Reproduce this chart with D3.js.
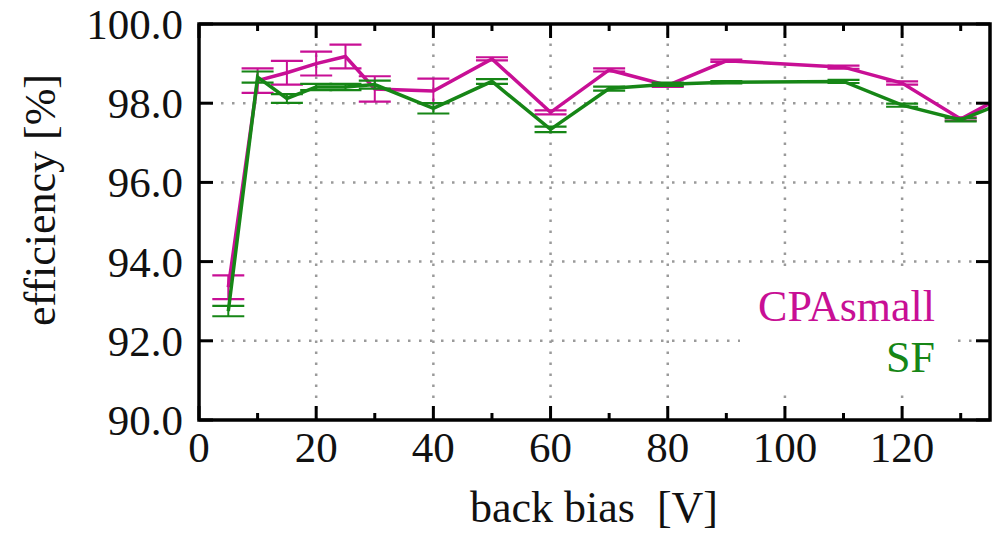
<!DOCTYPE html>
<html><head><meta charset="utf-8">
<script src="https://cdn.jsdelivr.net/npm/d3@7"></script>
<style>html,body{margin:0;padding:0;background:#fff;}svg{display:block;}</style>
</head><body>
<svg id="chart" width="992" height="533"></svg>
<script>
// ---- data ----
const biasV = [5, 10, 15, 20, 25, 30, 40, 50, 60, 70, 80, 90, 110, 120, 130, 140];
const cpaSmall = [93.35, 98.57, 98.77, 99.0, 99.18, 98.36, 98.31, 99.12, 97.77, 98.84, 98.45, 99.07, 98.91, 98.51, 97.6, 98.4];
const cpaSmallErr = [0.3, 0.31, 0.3, 0.3, 0.3, 0.32, 0.31, 0.04, 0.05, 0.04, 0.04, 0.03, 0.04, 0.04, 0.04, 0.04];
const sf = [92.75, 98.66, 98.12, 98.41, 98.41, 98.47, 97.87, 98.55, 97.34, 98.37, 98.48, 98.53, 98.55, 97.95, 97.58, 98.17];
const sfErr = [0.13, 0.14, 0.11, 0.08, 0.08, 0.1, 0.13, 0.06, 0.07, 0.05, 0.04, 0.03, 0.04, 0.04, 0.04, 0.04];
const xTicks = [0, 20, 40, 60, 80, 100, 120];
const xMinorTicks = [10, 30, 50, 70, 90, 110, 130];
const yTicks = [90, 92, 94, 96, 98, 100];
const seriesNames = ["CPAsmall", "SF"];
const seriesColors = ["#c80f95", "#168616"];

const svg = d3.select("#chart");
const L = 199, R = 990, T = 24, B = 420;
const x = d3.scaleLinear().domain([0, 135]).range([L, R]);
const y = d3.scaleLinear().domain([90, 100]).range([B, T]);
const font = "'Liberation Serif', 'Times New Roman', serif";

svg.append("defs").append("clipPath").attr("id", "clip")
  .append("rect").attr("x", L).attr("y", T).attr("width", R - L).attr("height", B - T);

// grid
const grid = svg.append("g").attr("stroke", "#9a9a9a").attr("stroke-width", 2.5)
  .attr("stroke-dasharray", "2.5,8.5");
grid.selectAll("line.gx").data(xTicks.filter(d => d > 0)).enter().append("line")
  .attr("x1", d => x(d)).attr("x2", d => x(d)).attr("y1", B).attr("y2", T);
grid.selectAll("line.gy").data(yTicks.filter(d => d > 90 && d < 100)).enter().append("line")
  .attr("y1", d => y(d)).attr("y2", d => y(d)).attr("x1", L).attr("x2", R);

// legend box (covers grid)
svg.append("rect").attr("x", 740).attr("y", 270).attr("width", 213).attr("height", 123).attr("fill", "#fff");

// data
const plot = svg.append("g").attr("clip-path", "url(#clip)");
const sets = [[cpaSmall, cpaSmallErr], [sf, sfErr]];
sets.forEach(([vals, errs], i) => {
  const c = seriesColors[i];
  const pts = biasV.map((b, k) => ({b, v: vals[k], e: errs[k]}));
  const g = plot.append("g").attr("stroke", c).attr("fill", "none");
  pts.forEach(p => {
    g.append("line").attr("x1", x(p.b)).attr("x2", x(p.b)).attr("y1", y(p.v - p.e)).attr("y2", y(p.v + p.e)).attr("stroke-width", 2);
    [p.v - p.e, p.v + p.e].forEach(yy => {
      g.append("line").attr("x1", x(p.b) - 16).attr("x2", x(p.b) + 16).attr("y1", y(yy)).attr("y2", y(yy)).attr("stroke-width", 2.2);
    });
  });
  g.append("path").datum(pts)
    .attr("d", d3.line().x(p => x(p.b)).y(p => y(p.v)))
    .attr("stroke-width", 3.5).attr("stroke-linejoin", "miter");
});

// axes (ticks inward, mirrored)
const axG = svg.append("g").attr("stroke", "#000");
const major = 14, minor = 7;
xTicks.forEach(t => {
  axG.append("line").attr("x1", x(t)).attr("x2", x(t)).attr("y1", B).attr("y2", B - major).attr("stroke-width", 3);
  axG.append("line").attr("x1", x(t)).attr("x2", x(t)).attr("y1", T).attr("y2", T + major).attr("stroke-width", 3);
});
xMinorTicks.forEach(t => {
  axG.append("line").attr("x1", x(t)).attr("x2", x(t)).attr("y1", B).attr("y2", B - minor).attr("stroke-width", 3);
  axG.append("line").attr("x1", x(t)).attr("x2", x(t)).attr("y1", T).attr("y2", T + minor).attr("stroke-width", 3);
});
yTicks.forEach(t => {
  axG.append("line").attr("x1", L).attr("x2", L + major).attr("y1", y(t)).attr("y2", y(t)).attr("stroke-width", 3);
  axG.append("line").attr("x1", R).attr("x2", R - major).attr("y1", y(t)).attr("y2", y(t)).attr("stroke-width", 3);
});
svg.append("rect").attr("x", L).attr("y", T).attr("width", R - L).attr("height", B - T)
  .attr("fill", "none").attr("stroke", "#000").attr("stroke-width", 3.5);

// tick labels
svg.append("g").selectAll("text").data(xTicks).enter().append("text")
  .attr("x", d => x(d)).attr("y", 462).attr("text-anchor", "middle")
  .attr("font-family", font).attr("font-size", 43).attr("fill", "#111").text(d => d);
svg.append("g").selectAll("text").data(yTicks).enter().append("text")
  .attr("x", 183).attr("y", d => y(d)).attr("dy", "0.35em").attr("text-anchor", "end")
  .attr("font-family", font).attr("font-size", 43).attr("fill", "#111").text(d => d3.format(".1f")(d));

// axis titles
svg.append("text").attr("x", 594).attr("y", 522).attr("text-anchor", "middle")
  .attr("font-family", font).attr("font-size", 44).attr("fill", "#111").attr("xml:space", "preserve").style("white-space", "pre")
  .text("back bias  [V]");
svg.append("text").attr("transform", "translate(55,200) rotate(-90)").attr("text-anchor", "middle")
  .attr("font-family", font).attr("font-size", 44).attr("fill", "#111").text("efficiency [%]");

// legend
seriesNames.forEach((n, i) => {
  svg.append("text").attr("x", 935).attr("y", 321 + i * 51).attr("text-anchor", "end")
    .attr("font-family", font).attr("font-size", 44).attr("fill", seriesColors[i]).text(n);
});
</script>
</body></html>
